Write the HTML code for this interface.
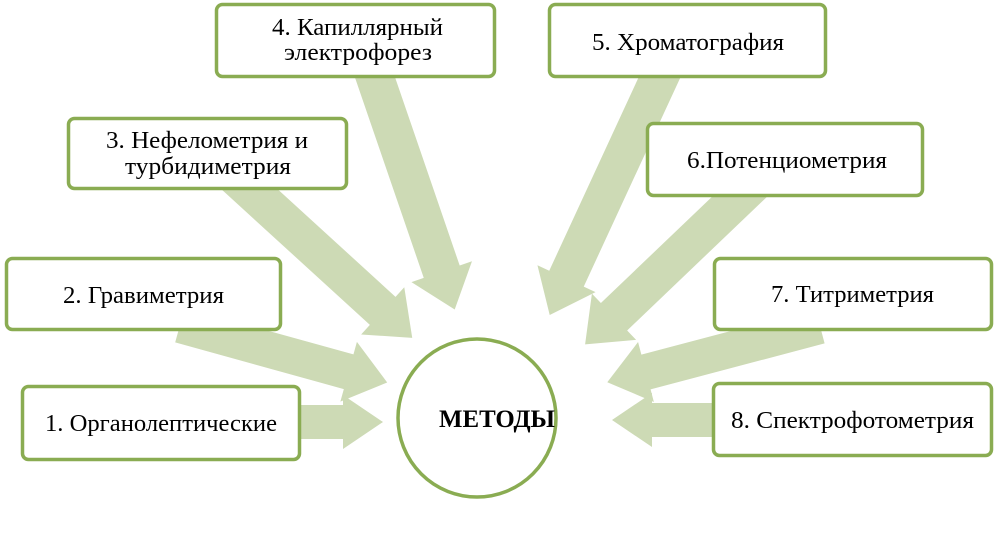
<!DOCTYPE html>
<html><head><meta charset="utf-8"><style>
body{margin:0;background:#fff;}
svg text{font-family:"Liberation Serif",serif;font-size:24px;fill:#000;}
</style></head><body>
<svg width="995" height="532" viewBox="0 0 995 532" xmlns="http://www.w3.org/2000/svg">
<g fill="#cddab5">
<g transform="translate(280,422) rotate(0)"><polygon points="0,-17 63,-17 63,-27 103,0 63,27 63,17 0,17"/></g>
<g transform="translate(180,325) rotate(15.5)"><polygon points="0,-18 175,-18 175,-31 215,0 175,31 175,18 0,18"/></g>
<g transform="translate(235,176) rotate(42.4)"><polygon points="0,-19 200,-19 200,-32 240,0 200,32 200,19 0,19"/></g>
<g transform="translate(368,57) rotate(71.05)"><polygon points="0,-19 227,-19 227,-32 267,0 227,32 227,19 0,19"/></g>
<g transform="translate(668,59) rotate(114.8)"><polygon points="0,-19 242,-19 242,-32 282,0 242,32 242,19 0,19"/></g>
<g transform="translate(755,182) rotate(136.3)"><polygon points="0,-19 195,-19 195,-32 235,0 195,32 195,19 0,19"/></g>
<g transform="translate(820,326) rotate(165.2)"><polygon points="0,-18 180,-18 180,-31 220,0 180,31 180,18 0,18"/></g>
<g transform="translate(730,420) rotate(180)"><polygon points="0,-17 78,-17 78,-27 118,0 78,27 78,17 0,17"/></g>
</g>
<g fill="#fff" stroke="#8aac52" stroke-width="3.5">
<circle cx="477" cy="418" r="79"/>
<rect x="22.5" y="386.5" width="277" height="73" rx="6"/>
<rect x="6.5" y="258.5" width="274" height="71" rx="6"/>
<rect x="68.5" y="118.5" width="278" height="70" rx="6"/>
<rect x="216.5" y="4.5" width="278" height="72" rx="6"/>
<rect x="549.5" y="4.5" width="276" height="72" rx="6"/>
<rect x="647.5" y="123.5" width="275" height="72" rx="6"/>
<rect x="714.5" y="258.5" width="277" height="71" rx="6"/>
<rect x="713.5" y="383.5" width="278" height="72" rx="6"/>
</g>
<g>
<text x="45" y="431" textLength="232" lengthAdjust="spacingAndGlyphs">1. Органолептические</text>
<text x="63" y="303" textLength="161" lengthAdjust="spacingAndGlyphs">2. Гравиметрия</text>
<text x="106" y="148" textLength="202" lengthAdjust="spacingAndGlyphs">3. Нефелометрия и</text>
<text x="125" y="174" textLength="166" lengthAdjust="spacingAndGlyphs">турбидиметрия</text>
<text x="272" y="35" textLength="171" lengthAdjust="spacingAndGlyphs">4. Капиллярный</text>
<text x="284" y="60" textLength="148" lengthAdjust="spacingAndGlyphs">электрофорез</text>
<text x="592" y="50" textLength="192" lengthAdjust="spacingAndGlyphs">5. Хроматография</text>
<text x="687" y="168" textLength="200" lengthAdjust="spacingAndGlyphs">6.Потенциометрия</text>
<text x="771" y="302" textLength="163" lengthAdjust="spacingAndGlyphs">7. Титриметрия</text>
<text x="731" y="428" textLength="243" lengthAdjust="spacingAndGlyphs">8. Спектрофотометрия</text>
<text x="439" y="427" textLength="116" lengthAdjust="spacingAndGlyphs" style="font-weight:bold;font-size:25px">МЕТОДЫ</text>
</g>
</svg>
</body></html>
